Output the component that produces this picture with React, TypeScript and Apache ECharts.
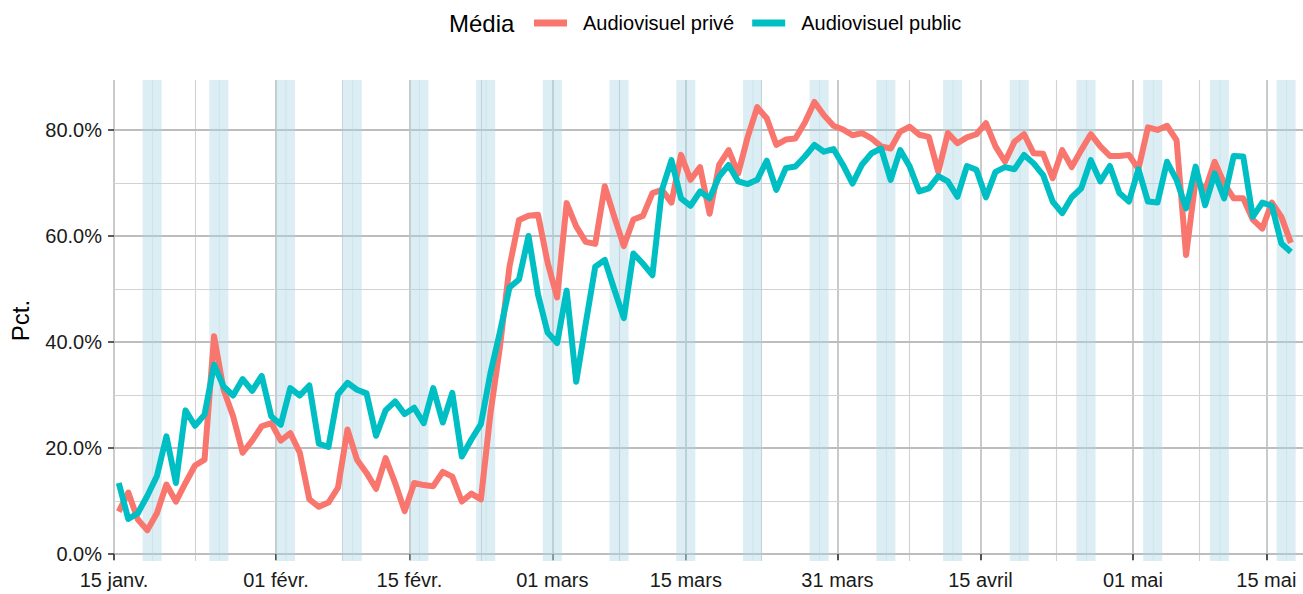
import React, { useEffect, useRef } from "react";
import * as echarts from "echarts";

// Day 0 = 15 janv. 2020 00:00; each daily value is plotted at noon (day + 0.5)
const tickDays = [0, 17, 31, 46, 60, 75.92, 90.92, 106.92, 120.92];
const tickLabels = ["15 janv.", "01 févr.", "15 févr.", "01 mars", "15 mars", "31 mars", "15 avril", "01 mai", "15 mai"];
const yTicks = [0, 20, 40, 60, 80];
const yMinor = [10, 30, 50, 70];

const seriesNames = ["Audiovisuel privé", "Audiovisuel public"];

const prive = [
  8.0, 11.6, 6.5, 4.5, 7.7, 13.1, 9.9, 13.4, 16.7, 17.8,
  41.1, 31.0, 26.0, 19.1, 21.4, 24.1, 24.7, 21.4, 22.8, 19.1,
  10.3, 8.9, 9.7, 12.5, 23.5, 17.8, 15.3, 12.3, 18.1, 13.4,
  8.1, 13.4, 13.0, 12.8, 15.5, 14.6, 9.9, 11.4, 10.3, 26.5,
  39.1, 54.2, 63.0, 63.8, 64.0, 55.0, 48.4, 66.2, 61.8, 58.9,
  58.5, 69.4, 63.6, 58.1, 63.1, 63.8, 68.1, 68.7, 66.3, 75.3,
  70.6, 73.0, 64.2, 73.4, 76.2, 71.8, 78.7, 84.3, 82.2, 77.2,
  78.2, 78.4, 81.4, 85.3, 82.8, 80.8, 80.1, 79.0, 79.4, 78.4,
  76.9, 76.5, 79.7, 80.6, 79.1, 78.7, 72.1, 79.4, 77.5, 78.6,
  79.2, 81.3, 76.9, 74.0, 77.8, 79.2, 75.6, 75.5, 70.9, 76.2,
  73.0, 76.2, 79.2, 76.9, 75.1, 75.1, 75.3, 72.6, 80.5, 80.0,
  80.8, 78.1, 56.4, 70.6, 68.7, 74.0, 69.9, 67.1, 67.1, 63.1,
  61.4, 66.3, 63.6, 58.7,
];

const publicVals = [
  13.4, 6.6, 7.7, 11.0, 14.7, 22.2, 13.4, 27.1, 24.2, 26.3,
  35.7, 31.6, 29.9, 33.0, 30.8, 33.6, 26.0, 24.4, 31.3, 29.9,
  31.8, 20.8, 20.2, 30.1, 32.3, 31.0, 30.3, 22.3, 27.1, 28.8,
  26.4, 27.6, 24.7, 31.3, 24.8, 30.4, 18.4, 21.6, 24.5, 34.1,
  41.9, 50.3, 51.8, 60.0, 48.9, 41.8, 39.8, 49.7, 32.5, 43.5,
  54.2, 55.5, 49.9, 44.5, 56.7, 54.8, 52.6, 68.7, 74.3, 67.1,
  65.7, 68.4, 67.1, 71.2, 73.4, 70.3, 69.8, 70.6, 74.2, 68.7,
  72.8, 73.1, 75.0, 77.2, 75.9, 76.4, 73.4, 69.9, 73.5, 75.6,
  76.5, 70.6, 76.2, 73.1, 68.4, 69.0, 71.3, 70.3, 67.4, 73.2,
  72.5, 67.3, 72.1, 73.0, 72.6, 75.3, 73.7, 71.5, 66.5, 64.3,
  67.3, 69.0, 74.3, 70.3, 73.2, 68.1, 66.5, 72.6, 66.5, 66.3,
  74.0, 70.6, 65.2, 73.1, 65.8, 71.8, 67.1, 75.1, 75.0, 63.6,
  66.3, 65.7, 58.6, 57.0,
];

const FONT = "'Liberation Sans', Arial, Helvetica, sans-serif";
const X_MAX = 124.77;

function weekendAreas() {
  const areas: any[] = [];
  for (let d = 0; d <= 125; d++) {
    const dt = new Date(2020, 0, 15 + d);
    if (dt.getDay() === 6) {
      areas.push([{ xAxis: d }, { xAxis: Math.min(d + 1.1, X_MAX) }]);
      if (d + 1 < X_MAX) areas.push([{ xAxis: d + 1 }, { xAxis: Math.min(d + 2, X_MAX) }]);
    }
  }
  return areas;
}

function gridLines() {
  const major = "#BDBDBD";
  const minor = "#D2D2D2";
  const lines: any[] = [];
  tickDays.forEach((d) => lines.push({ xAxis: d, lineStyle: { color: major, width: 1.6, type: "solid" } }));
  for (let i = 0; i < tickDays.length - 1; i++) {
    lines.push({ xAxis: (tickDays[i] + tickDays[i + 1]) / 2, lineStyle: { color: minor, width: 1.1, type: "solid" } });
  }
  yTicks.forEach((v) => lines.push({ yAxis: v, lineStyle: { color: major, width: 1.8, type: "solid" } }));
  yMinor.forEach((v) => lines.push({ yAxis: v, lineStyle: { color: minor, width: 1.1, type: "solid" } }));
  return lines;
}

export default function App() {
  const ref = useRef<HTMLDivElement>(null);
  useEffect(() => {
    if (!ref.current) return;
    const chart = echarts.init(ref.current, null, { renderer: "svg" });
    const toPts = (arr: number[]) => arr.map((v, i) => [i + 0.5, v]);
    const option: any = {
      animation: false,
      backgroundColor: "#ffffff",
      textStyle: { fontFamily: FONT },
      title: {
        text: "Média",
        left: 449,
        top: 9,
        padding: 0,
        textStyle: { fontFamily: FONT, fontSize: 24, fontWeight: "normal", color: "#000", lineHeight: 28 },
      },
      legend: {
        data: seriesNames,
        left: 534,
        top: 12,
        padding: 0,
        icon: "rect",
        itemWidth: 33,
        itemHeight: 7,
        itemGap: 18,
        textStyle: { fontFamily: FONT, fontSize: 20, color: "#000", lineHeight: 22, padding: [0, 0, 0, 11] },
      },
      grid: { left: 111, right: 0, top: 80, bottom: 33, containLabel: false },
      xAxis: {
        type: "value",
        min: 0,
        max: X_MAX,
        axisLine: { show: false },
        splitLine: { show: false },
        axisTick: { show: true, customValues: tickDays, length: 6, lineStyle: { color: "#333", width: 1.6 } },
        axisLabel: {
          show: true,
          customValues: tickDays,
          margin: 9,
          fontSize: 20,
          fontFamily: FONT,
          color: "#1A1A1A",
          formatter: (v: number) => {
            const idx = tickDays.findIndex((d) => Math.abs(d - v) < 0.01);
            return idx >= 0 ? tickLabels[idx] : "";
          },
        },
      },
      yAxis: {
        type: "value",
        min: -1.32,
        max: 89.43,
        name: "Pct.",
        nameLocation: "middle",
        nameRotate: 90,
        nameGap: 82,
        nameTextStyle: { fontFamily: FONT, fontSize: 24, color: "#000" },
        axisLine: { show: false },
        splitLine: { show: false },
        axisTick: { show: true, customValues: yTicks, length: 6, lineStyle: { color: "#333", width: 1.6 } },
        axisLabel: {
          show: true,
          customValues: yTicks,
          margin: 12,
          fontSize: 20,
          fontFamily: FONT,
          color: "#1A1A1A",
          formatter: (v: number) => v.toFixed(1) + "%",
        },
      },
      series: [
        {
          name: seriesNames[0],
          type: "line",
          z: 3,
          data: toPts(prive),
          showSymbol: false,
          symbol: "none",
          color: "#F8766D",
          lineStyle: { width: 6, color: "#F8766D", cap: "butt", join: "round" },
          markLine: {
            z: 0,
            silent: true,
            symbol: ["none", "none"],
            label: { show: false },
            emphasis: { disabled: true },
            data: gridLines(),
          },
          markArea: {
            z: 1,
            silent: true,
            itemStyle: { color: "rgba(173,216,230,0.43)", borderWidth: 0 },
            emphasis: { disabled: true },
            data: weekendAreas(),
          },
        },
        {
          name: seriesNames[1],
          type: "line",
          z: 4,
          data: toPts(publicVals),
          showSymbol: false,
          symbol: "none",
          color: "#00BFC4",
          lineStyle: { width: 6, color: "#00BFC4", cap: "butt", join: "round" },
        },
      ],
    };
    chart.setOption(option);
    return () => chart.dispose();
  }, []);
  return (
    <div
      ref={ref}
      style={{ position: "absolute", left: 0, top: 0, width: 1303, height: 594, background: "#fff" }}
    />
  );
}
